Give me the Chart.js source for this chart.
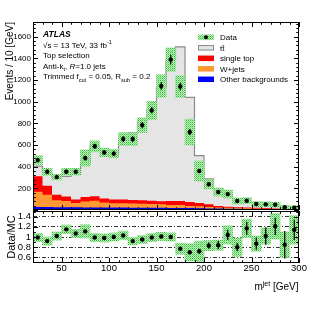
<!DOCTYPE html>
<html>
<head>
<meta charset="utf-8">
<script src="https://cdn.jsdelivr.net/npm/chart.js@4.4.1/dist/chart.umd.min.js"></script>
<style>
  html, body { margin: 0; padding: 0; background: #fff; }
  #wrap { position: relative; width: 332px; height: 322px; }
  #wrap canvas { position: absolute; left: 0; top: 0; }
</style>
</head>
<body>
<div id="wrap">
  <canvas id="mainChart" width="332" height="322"></canvas>
  <canvas id="ratioChart" width="332" height="322"></canvas>
</div>
<script>
const FONT = '"Liberation Sans", Arial, Helvetica, sans-serif'
Chart.defaults.font.family = FONT
Chart.defaults.color = '#000'

// large-R jet mass bins, 10 GeV wide
const binEdges = [20, 30, 40, 50, 60, 70, 80, 90, 100, 110, 120, 130, 140, 150, 160, 170, 180, 190, 200, 210, 220, 230, 240, 250, 260, 270, 280, 290, 300]

// data (events / 10 GeV)
const dataEvents = [461, 353, 304, 353, 353, 480, 588, 532, 521, 655, 655, 784, 920, 1145, 1389, 1140, 720, 360, 238, 166, 147, 83, 86, 55, 52, 49, 25, 21]
const dataErr = [21, 19, 17, 19, 19, 22, 24, 23, 23, 26, 26, 28, 30, 34, 45, 34, 27, 19, 15, 13, 12, 9, 9, 7, 7, 7, 5, 5]
const dataBand = [40, 33, 26, 31, 31, 75, 51, 39, 39, 59, 59, 67, 84, 104, 108, 100, 119, 92, 42, 37, 37, 28, 28, 23, 23, 23, 19, 19]

// MC stack components
const ttbar = [93, 120, 160, 185, 232, 308, 466, 437, 425, 540, 620, 739, 844, 1054, 1306, 1423, 966, 437, 235, 162, 111, 78, 52, 43, 33, 26, 17, 8]
const singleTop = [143, 85, 50, 42, 33, 42, 43, 36, 34, 34, 32, 31, 30, 28, 37, 37, 37, 30, 24, 14, 10, 8, 6, 6, 6, 4, 4, 3]
const wJets = [141, 113, 64, 58, 40, 54, 61, 47, 40, 40, 39, 37, 35, 32, 27, 27, 19, 19, 13, 9, 8, 7, 6, 5, 4, 3, 2, 2]
const otherBkg = [28, 27, 26, 25, 25, 24, 24, 23, 22, 22, 21, 21, 20, 20, 19, 19, 18, 16, 15, 13, 12, 11, 10, 9, 8, 7, 6, 5]

// Data/MC ratio panel
const ratio = [0.99, 0.92, 1.02, 1.15, 1.07, 1.11, 0.99, 0.98, 1.00, 1.03, 0.92, 0.95, 0.99, 1.01, 1.00, 0.77, 0.70, 0.72, 0.83, 0.84, 1.04, 0.80, 1.17, 0.87, 1.02, 1.21, 0.85, 1.14]
const ratioErr = [0.02, 0.02, 0.02, 0.02, 0.02, 0.02, 0.02, 0.02, 0.02, 0.02, 0.02, 0.02, 0.02, 0.02, 0.02, 0.03, 0.04, 0.05, 0.06, 0.08, 0.1, 0.08, 0.13, 0.12, 0.17, 0.17, 0.27, 0.2]
const ratioBand = [0.08, 0.08, 0.08, 0.085, 0.08, 0.13, 0.08, 0.08, 0.08, 0.085, 0.075, 0.08, 0.08, 0.08, 0.08, 0.11, 0.17, 0.2, 0.1, 0.1, 0.18, 0.18, 0.18, 0.15, 0.16, 0.25, 0.25, 0.28]

// tick labels
const xTicks = [50, 100, 150, 200, 250, 300]
const yTicks = [200, 400, 600, 800, 1000, 1200, 1400, 1600]
const ratioTicks = [0.6, 0.8, 1, 1.2, 1.4]

const legendLabels = ['Data', 'tt\u0304', 'single top', 'W+jets', 'Other backgrounds']
const COL_TT = '#e5e5e5'
const COL_TT_LINE = '#8c8c8c'
const COL_ST = '#ff0000'
const COL_WJ = '#ff9933'
const COL_OTHER = '#0000ff'

const binCenters = binEdges.slice(0, -1).map((e, i) => (e + binEdges[i + 1]) / 2)
const cumulate = (...series) => series[0].map((_, i) => series.reduce((s, arr) => s + arr[i], 0))
const stepPoints = (vals) => binEdges.map((e, i) => ({ x: e, y: vals[Math.min(i, vals.length - 1)] }))

const orangeTop = cumulate(otherBkg, wJets)
const redTop = cumulate(otherBkg, wJets, singleTop)
const mcTotal = cumulate(otherBkg, wJets, singleTop, ttbar)

// ROOT-like green cross hatch
const makeHatch = (canvasId) => {
    const c = document.createElement('canvas')
    c.width = 2
    c.height = 2
    const p = c.getContext('2d')
    p.fillStyle = '#c4f0c4'
    p.fillRect(0, 0, 2, 2)
    p.fillStyle = '#2fc02f'
    p.fillRect(0, 0, 1, 1)
    p.fillStyle = '#74d874'
    p.fillRect(1, 1, 1, 1)
    return document.getElementById(canvasId).getContext('2d').createPattern(c, 'repeat')
}

// draws text pieces in a row: normal, sub, sup, italic, bold italic
const drawRich = (ctx, x, y, parts, size, measureOnly) => {
    parts.forEach(([txt, kind]) => {
        let fs = size, dy = 0, style = ''
        if (kind === 'sub') { fs = size * 0.7; dy = size * 0.3 }
        if (kind === 'sup') { fs = size * 0.7; dy = -size * 0.4 }
        if (kind === 'i') style = 'italic '
        if (kind === 'bi') style = 'italic bold '
        ctx.font = `${style}${fs}px ${FONT}`
        if (!measureOnly) ctx.fillText(txt, x, y + dy)
        x += ctx.measureText(txt).width
    })
    return x
}

// ROOT style frame with inward ticks on all four sides
const rootAxes = ({ yStep, yMinor, xLen, yLen }) => ({
    id: 'rootAxes',
    afterDatasetsDraw(chart) {
        const { ctx, chartArea: a, scales: { x, y } } = chart
        ctx.save()
        ctx.strokeStyle = '#000'
        ctx.lineWidth = 1
        ctx.beginPath()
        for (let v = x.min; v <= x.max; v += 10) {
            const px = Math.round(x.getPixelForValue(v)) + 0.5
            const len = xTicks.includes(v) ? xLen : xLen * 0.55
            ctx.moveTo(px, a.bottom); ctx.lineTo(px, a.bottom - len)
            ctx.moveTo(px, a.top); ctx.lineTo(px, a.top + len)
        }
        const k0 = Math.ceil(y.min / yMinor - 1e-6), k1 = Math.floor(y.max / yMinor + 1e-6)
        for (let k = k0; k <= k1; k++) {
            const v = k * yMinor
            const py = Math.round(y.getPixelForValue(v)) + 0.5
            const major = Math.abs(v / yStep - Math.round(v / yStep)) < 1e-6
            const len = major ? yLen : yLen * 0.55
            ctx.moveTo(a.left, py); ctx.lineTo(a.left + len, py)
            ctx.moveTo(a.right, py); ctx.lineTo(a.right - len, py)
        }
        ctx.stroke()
        ctx.strokeRect(a.left + 0.5, a.top + 0.5, a.width - 1, a.height - 1)
        ctx.restore()
    }
})

const errorBars = (vals, errs) => ({
    id: 'errorBars',
    afterDatasetsDraw(chart) {
        const { ctx, chartArea: a, scales: { x, y } } = chart
        ctx.save()
        ctx.beginPath()
        ctx.rect(a.left, a.top, a.width, a.height)
        ctx.clip()
        ctx.strokeStyle = '#000'
        ctx.lineWidth = 1.2
        ctx.beginPath()
        binCenters.forEach((c, i) => {
            const px = x.getPixelForValue(c)
            ctx.moveTo(px, y.getPixelForValue(vals[i] - errs[i]))
            ctx.lineTo(px, y.getPixelForValue(vals[i] + errs[i]))
        })
        ctx.stroke()
        ctx.restore()
    }
})

const mainText = {
    id: 'mainText',
    afterDraw(chart) {
        const { ctx } = chart
        ctx.save()
        ctx.fillStyle = '#000'
        ctx.textAlign = 'left'
        ctx.textBaseline = 'alphabetic'
        drawRich(ctx, 43, 36.8, [['ATLAS', 'bi']], 8.5)
        drawRich(ctx, 43, 47.5, [['\u221As = 13 TeV, 33 fb'], ['-1', 'sup']], 8)
        drawRich(ctx, 43, 58, [['Top selection']], 8)
        drawRich(ctx, 43, 68.6, [['Anti-k'], ['t', 'sub'], [', '], ['R', 'i'], ['=1.0 jets']], 8)
        drawRich(ctx, 43, 79.2, [['Trimmed f'], ['cut', 'sub'], [' = 0.05, R'], ['sub', 'sub'], [' = 0.2']], 8)

        // legend
        const hatch = makeHatch('mainChart')
        legendLabels.forEach((lab, i) => {
            const cy = 37.3 + i * 10.5
            const bx = 198, bw = 16, bh = 5.5
            if (i === 0) {
                ctx.fillStyle = hatch
                ctx.fillRect(bx, cy - bh / 2, bw, bh)
                ctx.fillStyle = '#000'
                ctx.beginPath()
                ctx.arc(bx + bw / 2, cy, 2, 0, Math.PI * 2)
                ctx.fill()
            } else {
                ctx.fillStyle = [COL_TT, COL_ST, COL_WJ, COL_OTHER][i - 1]
                ctx.fillRect(bx, cy - bh / 2, bw, bh)
                if (i === 1) {
                    ctx.strokeStyle = COL_TT_LINE
                    ctx.lineWidth = 1
                    ctx.strokeRect(bx + 0.5, cy - bh / 2 + 0.5, bw - 1, bh - 1)
                }
            }
            ctx.fillStyle = '#000'
            ctx.font = `8px ${FONT}`
            ctx.fillText(lab, 220, cy + 3)
        })
        ctx.restore()
    }
}

const xTitle = {
    id: 'xTitle',
    afterDraw(chart) {
        const { ctx } = chart
        const parts = [['m'], ['jet', 'sup'], [' [GeV]']]
        ctx.save()
        ctx.fillStyle = '#000'
        ctx.textAlign = 'left'
        const w = drawRich(ctx, 0, 0, parts, 10, true)
        drawRich(ctx, 298.5 - w, 289.5, parts, 10)
        ctx.restore()
    }
}

const stackLine = (label, vals, color, order, extra) => Object.assign({
    type: 'line',
    label: label,
    data: stepPoints(vals),
    stepped: true,
    fill: 'origin',
    backgroundColor: color,
    borderColor: 'rgba(0,0,0,0)',
    borderWidth: 0,
    pointRadius: 0,
    order: order
}, extra || {})

new Chart(document.getElementById('mainChart'), {
    type: 'bar',
    data: {
        datasets: [
            {
                type: 'line',
                label: 'Data',
                data: binCenters.map((c, i) => ({ x: c, y: dataEvents[i] })),
                showLine: false,
                pointRadius: 2.2,
                pointBackgroundColor: '#000',
                pointBorderWidth: 0,
                order: 0
            },
            {
                type: 'bar',
                label: 'Uncertainty',
                data: binCenters.map((c, i) => ({ x: c, y: [dataEvents[i] - dataBand[i], dataEvents[i] + dataBand[i]] })),
                backgroundColor: makeHatch('mainChart'),
                borderWidth: 0,
                barPercentage: 1,
                categoryPercentage: 1,
                order: 1
            },
            stackLine('Other backgrounds', otherBkg, COL_OTHER, 2),
            stackLine('W+jets', orangeTop, COL_WJ, 3),
            stackLine('single top', redTop, COL_ST, 4),
            stackLine('tt', mcTotal, COL_TT, 5, { borderColor: COL_TT_LINE, borderWidth: 1.2 })
        ]
    },
    options: {
        responsive: false,
        animation: false,
        events: [],
        layout: { padding: { left: 0, right: 33, top: 22, bottom: 112 } },
        plugins: { legend: { display: false }, tooltip: { enabled: false } },
        scales: {
            x: { type: 'linear', min: 20, max: 300, offset: false, display: false },
            y: {
                type: 'linear',
                min: 0,
                max: 1736,
                afterBuildTicks: s => { s.ticks = yTicks.map(v => ({ value: v })) },
                afterFit: s => { s.width = 33 },
                grid: { display: false, drawTicks: false },
                border: { display: false },
                ticks: { font: { size: 8 }, padding: 2, autoSkip: false, callback: v => String(v) },
                title: { display: true, text: 'Events / 10 [GeV]', align: 'end', font: { size: 10 }, padding: { top: 4, bottom: 0 } }
            }
        }
    },
    plugins: [errorBars(dataEvents, dataErr), rootAxes({ yStep: 200, yMinor: 40, xLen: 5, yLen: 5 }), mainText]
})

new Chart(document.getElementById('ratioChart'), {
    type: 'bar',
    data: {
        datasets: [
            {
                type: 'line',
                label: 'Data/MC',
                data: binCenters.map((c, i) => ({ x: c, y: ratio[i] })),
                showLine: false,
                pointRadius: 2.2,
                pointBackgroundColor: '#000',
                pointBorderWidth: 0,
                order: 0
            },
            {
                type: 'bar',
                label: 'Uncertainty',
                data: binCenters.map((c, i) => ({ x: c, y: [ratio[i] - ratioBand[i], ratio[i] + ratioBand[i]] })),
                backgroundColor: makeHatch('ratioChart'),
                borderWidth: 0,
                barPercentage: 1,
                categoryPercentage: 1,
                order: 1
            }
        ]
    },
    options: {
        responsive: false,
        animation: false,
        events: [],
        layout: { padding: { left: 0, right: 33, top: 211, bottom: 0 } },
        plugins: { legend: { display: false }, tooltip: { enabled: false } },
        scales: {
            x: {
                type: 'linear',
                min: 20,
                max: 300,
                offset: false,
                afterBuildTicks: s => { s.ticks = xTicks.map(v => ({ value: v })) },
                afterFit: s => { s.height = 59 },
                grid: { display: false, drawTicks: false },
                border: { display: false },
                ticks: { font: { size: 9.5 }, padding: 0, maxRotation: 0, autoSkip: false, callback: v => String(v) }
            },
            y: {
                type: 'linear',
                min: 0.49,
                max: 1.51,
                afterBuildTicks: s => { s.ticks = ratioTicks.map(v => ({ value: v })) },
                afterFit: s => { s.width = 33 },
                grid: { color: '#000', lineWidth: 0.8, drawTicks: false },
                border: { display: false, dash: [4, 2, 1, 2] },
                ticks: { font: { size: 9.5 }, padding: 2, autoSkip: false, callback: v => String(v) },
                title: { display: true, text: 'Data/MC', font: { size: 11 }, padding: { top: 5, bottom: 0 } }
            }
        }
    },
    plugins: [errorBars(ratio, ratioErr), rootAxes({ yStep: 0.2, yMinor: 0.1, xLen: 5, yLen: 5 }), xTitle]
})
</script>
</body>
</html>
